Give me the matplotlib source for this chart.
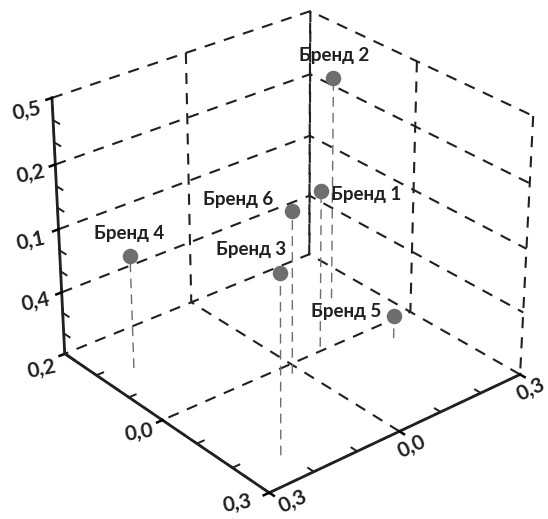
import matplotlib
matplotlib.use('Agg')
import matplotlib.pyplot as plt
from mpl_toolkits.mplot3d import proj3d

plt.rcParams['font.family'] = ['Lato', 'Noto Sans', 'DejaVu Sans']
plt.rcParams['lines.scale_dashes'] = False

brands = ['Бренд 1', 'Бренд 2', 'Бренд 3', 'Бренд 4', 'Бренд 5', 'Бренд 6']
xs = [-0.082, -0.218, 0.211, 0.232, -0.209, 0.02]
ys = [-0.012, -0.137, 0.224, -0.176, 0.053, 0.028]
zs = [2.50, 3.56, 2.77, 1.80, 0.37, 2.57]
x_ticks = [-0.3, 0.0, 0.3]
x_labels = ['0,3', '0,0', '0,3']
y_ticks = [0.0, 0.3]
y_labels = ['0,0', '0,3']
z_ticks = [0, 1, 2, 3, 4]
z_labels = ['0,2', '0,4', '0,1', '0,2', '0,5']
offsets = {'Бренд 1': (45, -4), 'Бренд 2': (1, 23), 'Бренд 3': (-29, 23),
           'Бренд 4': (-1, 22), 'Бренд 5': (-48, 4), 'Бренд 6': (-54, 12)}
x_label_shift = [(11, -15), (12, -15), (24, -9)]
y_label_shift = [(-23, -13), (-32, -11)]
z_label_shift = [(-23, -15), (-26, -10), (-28, -12), (-25, -10), (-25, -13)]

fig = plt.figure(figsize=(5.48, 5.19), dpi=100)
ax = fig.add_axes([0.018, 0.026, 1, 1], projection='3d', computed_zorder=False)
ax.patch.set_alpha(0)
ax.set_proj_type('persp', focal_length=0.9)
ax.view_init(elev=28.5, azim=50)
ax.set_box_aspect((1, 1, 0.88), zoom=1.035)
ax.set_xlim(-0.3, 0.3, view_margin=0.0005)
ax.set_ylim(-0.3, 0.3, view_margin=0.0005)
ax.set_zlim(0, 4, view_margin=0)
ax.set_xticks(x_ticks); ax.set_xticklabels([])
ax.set_yticks([-0.3] + y_ticks); ax.set_yticklabels([])
# the z=0 grid would double the floor's back edges, so the bottom tick is drawn by hand below
ax.set_zticks(z_ticks[1:]); ax.set_zticklabels([])
ax.zaxis.set_ticks_position('lower')

for axis in (ax.xaxis, ax.yaxis, ax.zaxis):
    axis.set_pane_color((1, 1, 1, 0))
    axis.pane.set_edgecolor('none')
    axis.line.set_color('#231f20')
    axis.line.set_linewidth(2.0)
    info = axis._axinfo
    info['grid'].update(color='#231f20', linewidth=1.5, linestyle=(0, (8, 6.5)))
    info['tick'].update(inward_factor=0.25, outward_factor=0.0, linewidth={True: 1.8, False: 1.2}, color='#231f20')

ax.plot([0.3, 0.3], [-0.3, -0.27], [0, 0], color='#231f20', lw=1.8)
for v0, v1 in zip(x_ticks[:-1], x_ticks[1:]):
    for k in (1, 2):
        v = v0 + (v1 - v0) * k / 3
        ax.plot([v, v], [0.3, 0.285], [0, 0], color='#231f20', lw=1.4)
        ax.plot([0.3, 0.285], [v, v], [0, 0], color='#231f20', lw=1.4)
for v0, v1 in zip(z_ticks[:-1], z_ticks[1:]):
    for k in (1, 2):
        v = v0 + (v1 - v0) * k / 3
        ax.plot([0.3, 0.3], [-0.3, -0.282], [v, v], color='#231f20', lw=1.4)

for x, y, z in zip(xs, ys, zs):
    ax.plot([x, x], [y, y], [0, z], color='#6d6e71', lw=1.0, linestyle=(0, (7, 4.5)))
ax.scatter(xs, ys, zs, s=125, c='#6d6e71', depthshade=False, alpha=1, linewidths=0, zorder=5)

M = ax.get_proj()
for b, x, y, z in zip(brands, xs, ys, zs):
    px, py, _ = proj3d.proj_transform(x, y, z, M)
    ax.annotate(b, xy=(px, py), xytext=offsets[b], textcoords='offset pixels',
                ha='center', va='center', fontsize=13.5, fontweight='bold', color='#231f20', zorder=6)

def tick_label(pt, text, shift, rot):
    px, py, _ = proj3d.proj_transform(*pt, M)
    ax.annotate(text, xy=(px, py), xytext=shift, textcoords='offset pixels', rotation=rot,
                rotation_mode='anchor', ha='center', va='center', fontsize=15,
                fontweight='bold', color='#231f20', annotation_clip=False)

for v, t, s in zip(x_ticks, x_labels, x_label_shift):
    tick_label((v, 0.3, 0), t, s, 25)
for v, t, s in zip(y_ticks, y_labels, y_label_shift):
    tick_label((0.3, v, 0), t, s, 10)
for v, t, s in zip(z_ticks, z_labels, z_label_shift):
    tick_label((0.3, -0.3, v), t, s, 12)

fig.savefig('out.png', dpi=100)
